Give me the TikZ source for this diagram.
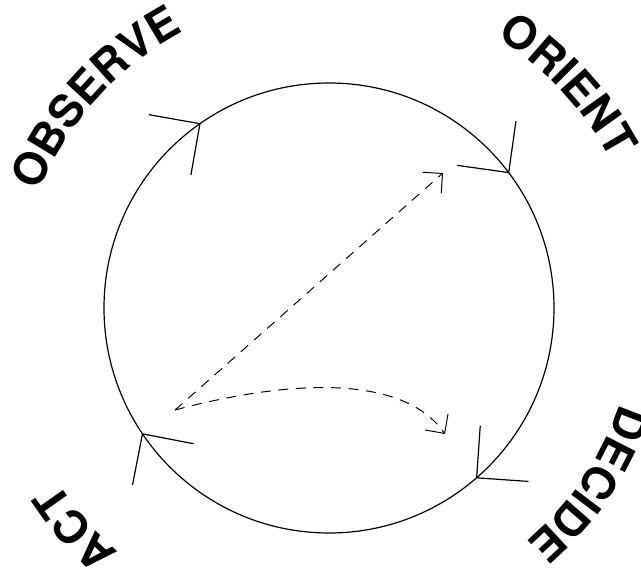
\documentclass[tikz,border=0pt]{standalone}
\usepackage{fontspec}
\setmainfont{TeX Gyre Heros}
\usetikzlibrary{arrows.meta, calc, decorations.text}

\tikzstyle{cycleline} = [line width=0.85pt]
\tikzstyle{barb} = [line width=0.85pt]
\tikzstyle{flow} = [line width=0.7pt, 
dash pattern=on 7pt off 5.5pt, 
-{Straight Barb[length=3.5mm, width=7mm]}]
\tikzstyle{looptext} = [decorate, 
decoration={text along path, text align=center}]
\newcommand{\stagefont}{\bfseries\fontsize{32}{32}\selectfont}

\begin{document}
\begin{tikzpicture}

\useasboundingbox (0,0) rectangle (16.025,14.2);
\clip (0,0) rectangle (16.025,14.2);

\coordinate (c) at (8.225,6.5);
\def\R{5.625}

\draw [cycleline] (c) circle (\R);

% arrowheads on the loop
\foreach \a/\n in {125/obs, 37/ori, -49/dec, 214/act} {
  \coordinate (\n) at ($(c)+(\a:\R)$);
  \draw [barb] ($(\n)+(\a+45:1.3)$) -- (\n) -- ($(\n)+(\a+135:1.3)$);
}

% stage names
\path [looptext, decoration={text={|\stagefont|OBSERVE}}]
  ($(c)+(178:7.8)$) arc[start angle=178, end angle=98, radius=7.8];
\path [looptext, decoration={text={|\stagefont|ORIENT}}]
  ($(c)+(83:7.95)$) arc[start angle=83, end angle=3, radius=7.95];
\path [looptext, decoration={text={|\stagefont|DECIDE}}]
  ($(c)+(6:7.65)$) arc[start angle=6, end angle=-74, radius=7.65];
\path [looptext, decoration={text={|\stagefont|ACT}}]
  ($(c)+(261:8.05)$) arc[start angle=261, end angle=181, radius=8.05];

% dashed shortcuts
\coordinate (src) at (4.375,3.95);
\coordinate (toori) at (11.075,9.875);
\coordinate (todec) at (11.125,3.35);

\draw [flow] (src) -- (toori);
\draw [flow] (src) to[out=15, in=125, looseness=0.8] (todec);

\end{tikzpicture}
\end{document}
